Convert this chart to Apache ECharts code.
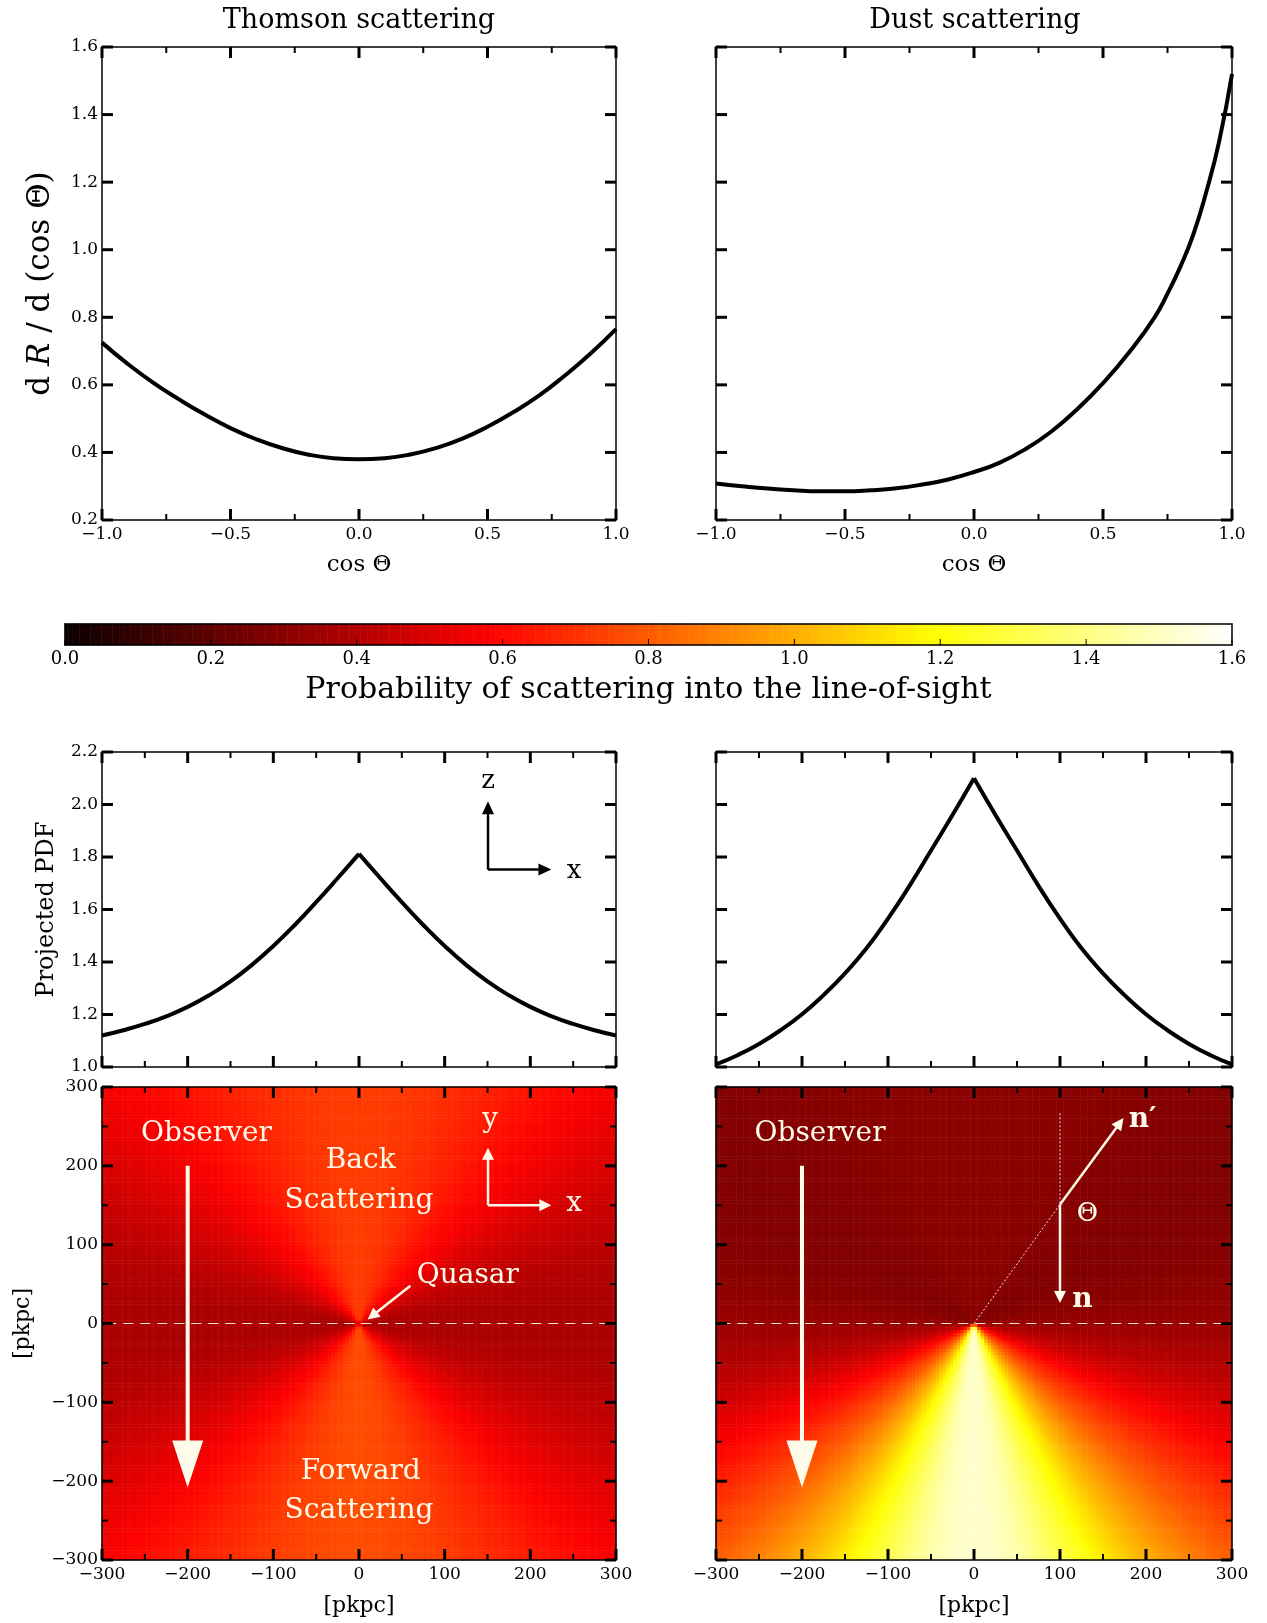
<!DOCTYPE html>
<html>
<head>
<meta charset="utf-8">
<style>
html, body { margin: 0; padding: 0; background: #fff; }
#chart { width: 1267px; height: 1623px; }
</style>
<script src="https://cdn.jsdelivr.net/npm/echarts@6/dist/echarts.min.js"></script>
</head>
<body>
<div id="chart"></div>
<script>
// scattering phase functions
const thomsonCos = [-1.0, -0.9, -0.8, -0.7, -0.6, -0.5, -0.4, -0.3, -0.2, -0.1, 0.0,
                    0.1, 0.2, 0.3, 0.4, 0.5, 0.6, 0.7, 0.8, 0.9, 1.0];
const thomsonVal = [0.725, 0.662, 0.606, 0.557, 0.512, 0.472, 0.439, 0.413, 0.394, 0.383, 0.380,
                    0.383, 0.394, 0.413, 0.440, 0.476, 0.519, 0.568, 0.627, 0.692, 0.765];
const dustCos = [-1.0, -0.9, -0.8, -0.7, -0.6, -0.5, -0.4, -0.3, -0.2, -0.1, 0.0,
                 0.1, 0.2, 0.3, 0.4, 0.5, 0.6, 0.7, 0.75, 0.8, 0.85, 0.9, 0.95, 1.0];
const dustVal = [0.308, 0.300, 0.293, 0.288, 0.285, 0.285, 0.288, 0.294, 0.305, 0.320, 0.342,
                 0.370, 0.410, 0.462, 0.528, 0.605, 0.695, 0.800, 0.870, 0.950, 1.045, 1.170, 1.320, 1.520];

// projected PDFs (middle panels), x in pkpc
const projX = [-300, -275, -250, -225, -200, -175, -150, -125, -100, -75, -50, -25, 0,
               25, 50, 75, 100, 125, 150, 175, 200, 225, 250, 275, 300];
const projThomson = [1.120, 1.140, 1.164, 1.193, 1.229, 1.273, 1.326, 1.389, 1.461, 1.541, 1.628, 1.719, 1.812,
                     1.719, 1.628, 1.541, 1.461, 1.389, 1.326, 1.273, 1.229, 1.193, 1.164, 1.140, 1.120];
const projDust = [1.010, 1.045, 1.088, 1.140, 1.201, 1.274, 1.357, 1.452, 1.565, 1.690, 1.825, 1.960, 2.100,
                  1.960, 1.825, 1.690, 1.565, 1.452, 1.357, 1.274, 1.201, 1.140, 1.088, 1.045, 1.010];

// colour scale
const cbarMin = 0, cbarMax = 1.6;
const MAP_N = 150;      // cells per side of each map
const MAP_R = 300;      // half width of map, pkpc

const SERIF = "'DejaVu Serif', serif";
const INK = '#fffbea';

// matplotlib 'hot'
function hot(t) {
  const r = Math.min(1, 0.0416 + t * (1 - 0.0416) / 0.365079);
  const g = Math.max(0, Math.min(1, (t - 0.365079) / (0.746032 - 0.365079)));
  const b = Math.max(0, Math.min(1, (t - 0.746032) / (1 - 0.746032)));
  return 'rgb(' + [r, g, b].map(c => Math.round(c * 255)).join(',') + ')';
}
const hotColors = [];
for (let i = 0; i <= 64; i++) hotColors.push(hot(i / 64));

function lookup(xs, ys, v) {
  if (v <= xs[0]) return ys[0];
  for (let i = 1; i < xs.length; i++) {
    if (v <= xs[i]) {
      const f = (v - xs[i - 1]) / (xs[i] - xs[i - 1]);
      return ys[i - 1] + f * (ys[i] - ys[i - 1]);
    }
  }
  return ys[ys.length - 1];
}

// each cell: probability for light from the quasar at the origin to be scattered
// towards the observer (looking along -y), taken from the phase function arrays
function mapCells(cosArr, valArr) {
  const step = 2 * MAP_R / MAP_N, cells = [];
  for (let j = 0; j < MAP_N; j++) {
    for (let i = 0; i < MAP_N; i++) {
      const x = -MAP_R + (i + 0.5) * step, y = -MAP_R + (j + 0.5) * step;
      const c = -y / Math.hypot(x, y);
      cells.push([i, j, lookup(cosArr, valArr, c)]);
    }
  }
  return cells;
}

const zip = (a, b) => a.map((v, i) => [v, b[i]]);
const fmt = d => v => (v < 0 ? '\u2212' : '') + Math.abs(v).toFixed(d);

const grids = [], xAxes = [], yAxes = [], series = [], heatIdx = [];

function addGrid(box) {
  grids.push(Object.assign({ containLabel: false, outerBoundsMode: 'none' }, box));
  return grids.length - 1;
}

function axis(g, pos, r, o) {
  o = o || {};
  const a = {
    type: 'value', gridIndex: g, position: pos, min: r[0], max: r[1], interval: r[2], z: 10,
    axisLine: { show: true, onZero: false, lineStyle: { color: '#000', width: 1.5 } },
    axisTick: { show: false },
    minorTick: { show: false },
    splitLine: { show: false },
    minorSplitLine: { show: false },
    axisLabel: o.digits == null ? { show: false } : {
      show: true, color: '#000', fontFamily: SERIF, fontSize: o.fontSize || 17, margin: o.margin || 6,
      showMinLabel: true, showMaxLabel: true, formatter: fmt(o.digits)
    }
  };
  if (o.name) {
    a.name = o.name;
    a.nameLocation = 'middle';
    a.nameGap = o.nameGap;
    if (o.nameRotate != null) a.nameRotate = o.nameRotate;
    a.nameTextStyle = Object.assign({ color: '#000', fontFamily: SERIF, fontSize: 22 }, o.nameStyle || {});
  }
  return a;
}

// four-sided frame
function frame(g, xr, yr, ox, oy) {
  const ix = xAxes.length, iy = yAxes.length;
  xAxes.push(axis(g, 'bottom', xr, ox));
  xAxes.push(axis(g, 'top', xr, {}));
  yAxes.push(axis(g, 'left', yr, oy));
  yAxes.push(axis(g, 'right', yr, {}));
  return { x: ix, y: iy };
}

// inward tick marks, mirrored on the chosen sides (own canvas layer, above the maps)
function ticks(f, xr, yr, o) {
  const vals = (r, minor) => {
    const out = [], n = Math.round((r[1] - r[0]) / r[2]);
    for (let i = 0; i <= n; i++) {
      out.push([r[0] + i * r[2], true]);
      if (minor && i < n) out.push([r[0] + (i + 0.5) * r[2], false]);
    }
    return out;
  };
  series.push({
    type: 'custom', xAxisIndex: f.x, yAxisIndex: f.y, zlevel: 1, z: 13, silent: true, clip: false,
    data: [[(xr[0] + xr[1]) / 2, (yr[0] + yr[1]) / 2]],
    renderItem: (params, api) => {
      const lo = api.coord([xr[0], yr[0]]), hi = api.coord([xr[1], yr[1]]);
      const L = lo[0], R = hi[0], B = lo[1], T = hi[1], kids = [];
      const seg = (x1, y1, x2, y2, major) => kids.push({
        type: 'line', shape: { x1, y1, x2, y2 },
        style: { stroke: '#000', lineWidth: major ? o.width : o.minorWidth }
      });
      vals(xr, o.xMinor).forEach(([v, major]) => {
        const px = api.coord([v, yr[0]])[0], len = major ? o.len : o.minorLen;
        if (o.sides.includes('bottom')) seg(px, B, px, B - len, major);
        if (o.sides.includes('top')) seg(px, T, px, T + len, major);
      });
      if (o.sides.includes('left') || o.sides.includes('right')) {
        vals(yr, o.yMinor).forEach(([v, major]) => {
          const py = api.coord([xr[0], v])[1], len = major ? o.len : o.minorLen;
          if (o.sides.includes('left')) seg(L, py, L + len, py, major);
          if (o.sides.includes('right')) seg(R, py, R - len, py, major);
        });
      }
      return { type: 'group', children: kids };
    }
  });
}
const box4 = ['bottom', 'top', 'left', 'right'];
const tickStyle = (xMinor, yMinor) => ({ sides: box4, xMinor, yMinor, len: 11, width: 3, minorLen: 6, minorWidth: 2 });

function hiddenCat(g, n, m) {
  const ix = xAxes.length, iy = yAxes.length;
  xAxes.push({ type: 'category', gridIndex: g, show: false, data: Array.from({ length: n }, (_, i) => i) });
  yAxes.push({ type: 'category', gridIndex: g, show: false, data: Array.from({ length: m }, (_, i) => i) });
  return { x: ix, y: iy };
}

function curve(f, data) {
  series.push({
    type: 'line', xAxisIndex: f.x, yAxisIndex: f.y, data, showSymbol: false, symbol: 'none',
    smooth: 0.5, silent: true, z: 5, lineStyle: { color: '#000', width: 4 }
  });
}

function heat(f, data) {
  heatIdx.push(series.length);
  series.push({
    type: 'heatmap', xAxisIndex: f.x, yAxisIndex: f.y, data, silent: true, z: 1,
    progressive: 0, progressiveThreshold: 1e8,
    itemStyle: { borderWidth: 0 }, emphasis: { disabled: true }
  });
}

function arrows(f, segs, st) {
  series.push({
    type: 'custom', xAxisIndex: f.x, yAxisIndex: f.y, zlevel: 1, z: 12, silent: true, clip: false,
    data: segs, encode: { x: [0, 2], y: [1, 3] },
    renderItem: (params, api) => {
      const p1 = api.coord([api.value(0), api.value(1)]);
      const p2 = api.coord([api.value(2), api.value(3)]);
      const dx = p2[0] - p1[0], dy = p2[1] - p1[1], len = Math.hypot(dx, dy);
      const ux = dx / len, uy = dy / len, nx = -uy, ny = ux;
      const bx = p2[0] - ux * st.head, by = p2[1] - uy * st.head;
      return {
        type: 'group', children: [
          { type: 'line', shape: { x1: p1[0], y1: p1[1], x2: bx + ux, y2: by + uy },
            style: { stroke: st.color, lineWidth: st.width } },
          { type: 'polygon', shape: { points: [[p2[0], p2[1]], [bx + nx * st.half, by + ny * st.half], [bx - nx * st.half, by - ny * st.half]] },
            style: { fill: st.color } }
        ]
      };
    }
  });
}

function labels(f, items, color) {
  series.push({
    type: 'custom', xAxisIndex: f.x, yAxisIndex: f.y, zlevel: 1, z: 12, silent: true, clip: false,
    data: items.map(it => [it.x, it.y]),
    renderItem: (params, api) => {
      const it = items[params.dataIndex];
      const p = api.coord([it.x, it.y]);
      return {
        type: 'text', x: p[0], y: p[1],
        style: { text: it.text, font: it.font, fill: color, align: 'center', verticalAlign: 'middle',
                 textAlign: 'center', textVerticalAlign: 'middle' }
      };
    }
  });
}

function guide(f, data, type, width) {
  series.push({
    type: 'line', xAxisIndex: f.x, yAxisIndex: f.y, data, showSymbol: false, symbol: 'none', silent: true,
    zlevel: 1, z: 11, lineStyle: { color: INK, width, type, opacity: 0.9 }
  });
}

// ---- layout ----
const L = { l1: 102, w1: 514, l2: 716, w2: 516 };
const gTL = addGrid({ left: L.l1, top: 47, width: L.w1, height: 473 });
const gTR = addGrid({ left: L.l2, top: 47, width: L.w2, height: 473 });
const gCH = addGrid({ left: 65, top: 624, width: 1167, height: 21 });
const gCV = addGrid({ left: 65, top: 624, width: 1167, height: 21 });
const gML = addGrid({ left: L.l1, top: 752, width: L.w1, height: 315 });
const gMR = addGrid({ left: L.l2, top: 752, width: L.w2, height: 315 });
const gHL = addGrid({ left: L.l1, top: 1087, width: L.w1, height: 473 });
const gVL = addGrid({ left: L.l1, top: 1087, width: L.w1, height: 473 });
const gHR = addGrid({ left: L.l2, top: 1087, width: L.w2, height: 473 });
const gVR = addGrid({ left: L.l2, top: 1087, width: L.w2, height: 473 });

// top: phase functions
const xCos = [-1, 1, 0.5], yPhase = [0.2, 1.6, 0.2];
const cosName = { name: 'cos \u0398', nameGap: 34, nameStyle: { fontSize: 23 } };
const fTL = frame(gTL, xCos, yPhase,
  Object.assign({ digits: 1 }, cosName),
  { digits: 1, margin: 4, name: '{a|d }{b|R}{a| / d (cos \u0398)}', nameGap: 46, nameRotate: 90,
    nameStyle: { rich: { a: { fontFamily: SERIF, fontSize: 31, color: '#000' },
                         b: { fontFamily: SERIF, fontSize: 31, fontStyle: 'italic', color: '#000' } } } });
const fTR = frame(gTR, xCos, yPhase, Object.assign({ digits: 1 }, cosName), {});
ticks(fTL, xCos, yPhase, tickStyle(true, false));
ticks(fTR, xCos, yPhase, tickStyle(true, false));
curve(fTL, zip(thomsonCos, thomsonVal));
curve(fTR, zip(dustCos, dustVal));

// colorbar
const CB_N = 320;
const cbCells = [];
for (let i = 0; i < CB_N; i++) cbCells.push([i, 0, cbarMin + (i + 0.5) * (cbarMax - cbarMin) / CB_N]);
heat(hiddenCat(gCH, CB_N, 1), cbCells);
const xCb = [cbarMin, cbarMax, 0.2];
const fCV = frame(gCV, xCb, [0, 1, 1],
  { digits: 1, margin: 5, fontSize: 18, name: 'Probability of scattering into the line-of-sight',
    nameGap: 30, nameStyle: { fontSize: 30 } }, {});
ticks(fCV, xCb, [0, 1, 1], { sides: ['bottom'], xMinor: false, len: 6, width: 1 });

// middle: projected PDFs (split at the cusp)
const xKpc = [-300, 300, 100], yPdf = [1.0, 2.2, 0.2];
const fML = frame(gML, xKpc, yPdf, {},
  { digits: 1, margin: 4, name: 'Projected PDF', nameGap: 43, nameRotate: 90, nameStyle: { fontSize: 24 } });
const fMR = frame(gMR, xKpc, yPdf, {}, {});
ticks(fML, xKpc, yPdf, tickStyle(true, false));
ticks(fMR, xKpc, yPdf, tickStyle(true, false));
const mid = projX.indexOf(0);
curve(fML, zip(projX, projThomson).slice(0, mid + 1));
curve(fML, zip(projX, projThomson).slice(mid));
curve(fMR, zip(projX, projDust).slice(0, mid + 1));
curve(fMR, zip(projX, projDust).slice(mid));
arrows(fML, [[150.6, 1.752, 150.6, 2.012], [150.6, 1.752, 224.6, 1.752]],
  { color: '#000', width: 2.5, head: 13, half: 6 });
labels(fML, [{ text: 'z', x: 150.6, y: 2.088, font: '26px ' + SERIF },
             { text: 'x', x: 251, y: 1.746, font: '26px ' + SERIF }], '#000');

// bottom: maps
heat(hiddenCat(gHL, MAP_N, MAP_N), mapCells(thomsonCos, thomsonVal));
heat(hiddenCat(gHR, MAP_N, MAP_N), mapCells(dustCos, dustVal));
const pk = { name: '[pkpc]', nameGap: 35, nameStyle: { fontSize: 22 } };
const fVL = frame(gVL, xKpc, xKpc,
  Object.assign({ digits: 0 }, pk),
  Object.assign({ digits: 0, margin: 4 }, pk, { nameGap: 68, nameRotate: 90 }));
const fVR = frame(gVR, xKpc, xKpc, Object.assign({ digits: 0 }, pk), {});
ticks(fVL, xKpc, xKpc, tickStyle(true, true));
ticks(fVR, xKpc, xKpc, tickStyle(true, true));

const big = { color: INK, width: 4, head: 47, half: 15.5 };
const small = { color: INK, width: 2.5, head: 12, half: 6 };
const F28 = '28px ' + SERIF;

guide(fVL, [[-295, 0], [300, 0]], [10, 7], 1.2);
arrows(fVL, [[-200, 200, -200, -208]], big);
arrows(fVL, [[150.6, 150, 150.6, 223], [150.6, 150, 224.5, 150], [60, 48, 10, 5]], small);
labels(fVL, [
  { text: 'Observer', x: -178, y: 241, font: F28 },
  { text: 'Back', x: 2, y: 207, font: F28 },
  { text: 'Scattering', x: 0, y: 156, font: F28 },
  { text: 'Quasar', x: 127, y: 61, font: F28 },
  { text: 'y', x: 153, y: 258, font: F28 },
  { text: 'x', x: 251, y: 152, font: F28 },
  { text: 'Forward', x: 2, y: -188, font: F28 },
  { text: 'Scattering', x: 0, y: -238, font: F28 }
], INK);

guide(fVR, [[-295, 0], [300, 0]], [10, 7], 1.2);
guide(fVR, [[0, 0], [100, 151], [100, 269]], [2, 2], 1);
arrows(fVR, [[-200, 200, -200, -208]], big);
arrows(fVR, [[100, 151, 173.8, 260.6], [100, 151, 100, 26]], small);
labels(fVR, [
  { text: 'Observer', x: -179, y: 241, font: F28 },
  { text: '\u0398', x: 132, y: 138, font: '26px ' + SERIF },
  { text: 'n\u2032', x: 196, y: 258, font: 'bold 28px ' + SERIF },
  { text: 'n', x: 126, y: 30, font: 'bold 28px ' + SERIF }
], INK);

const chart = echarts.init(document.getElementById('chart'), null, { renderer: 'canvas' });
chart.setOption({
  animation: false,
  backgroundColor: '#fff',
  textStyle: { fontFamily: SERIF },
  grid: grids,
  xAxis: xAxes,
  yAxis: yAxes,
  visualMap: {
    type: 'continuous', show: false, min: cbarMin, max: cbarMax, dimension: 2,
    seriesIndex: heatIdx, inRange: { color: hotColors }
  },
  graphic: [
    { type: 'text', x: 359, y: 21, silent: true,
      style: { text: 'Thomson scattering', font: '27px ' + SERIF, fill: '#000', align: 'center', verticalAlign: 'middle', textAlign: 'center', textVerticalAlign: 'middle' } },
    { type: 'text', x: 975, y: 21, silent: true,
      style: { text: 'Dust scattering', font: '27px ' + SERIF, fill: '#000', align: 'center', verticalAlign: 'middle', textAlign: 'center', textVerticalAlign: 'middle' } }
  ],
  series
});
</script>
</body>
</html>
